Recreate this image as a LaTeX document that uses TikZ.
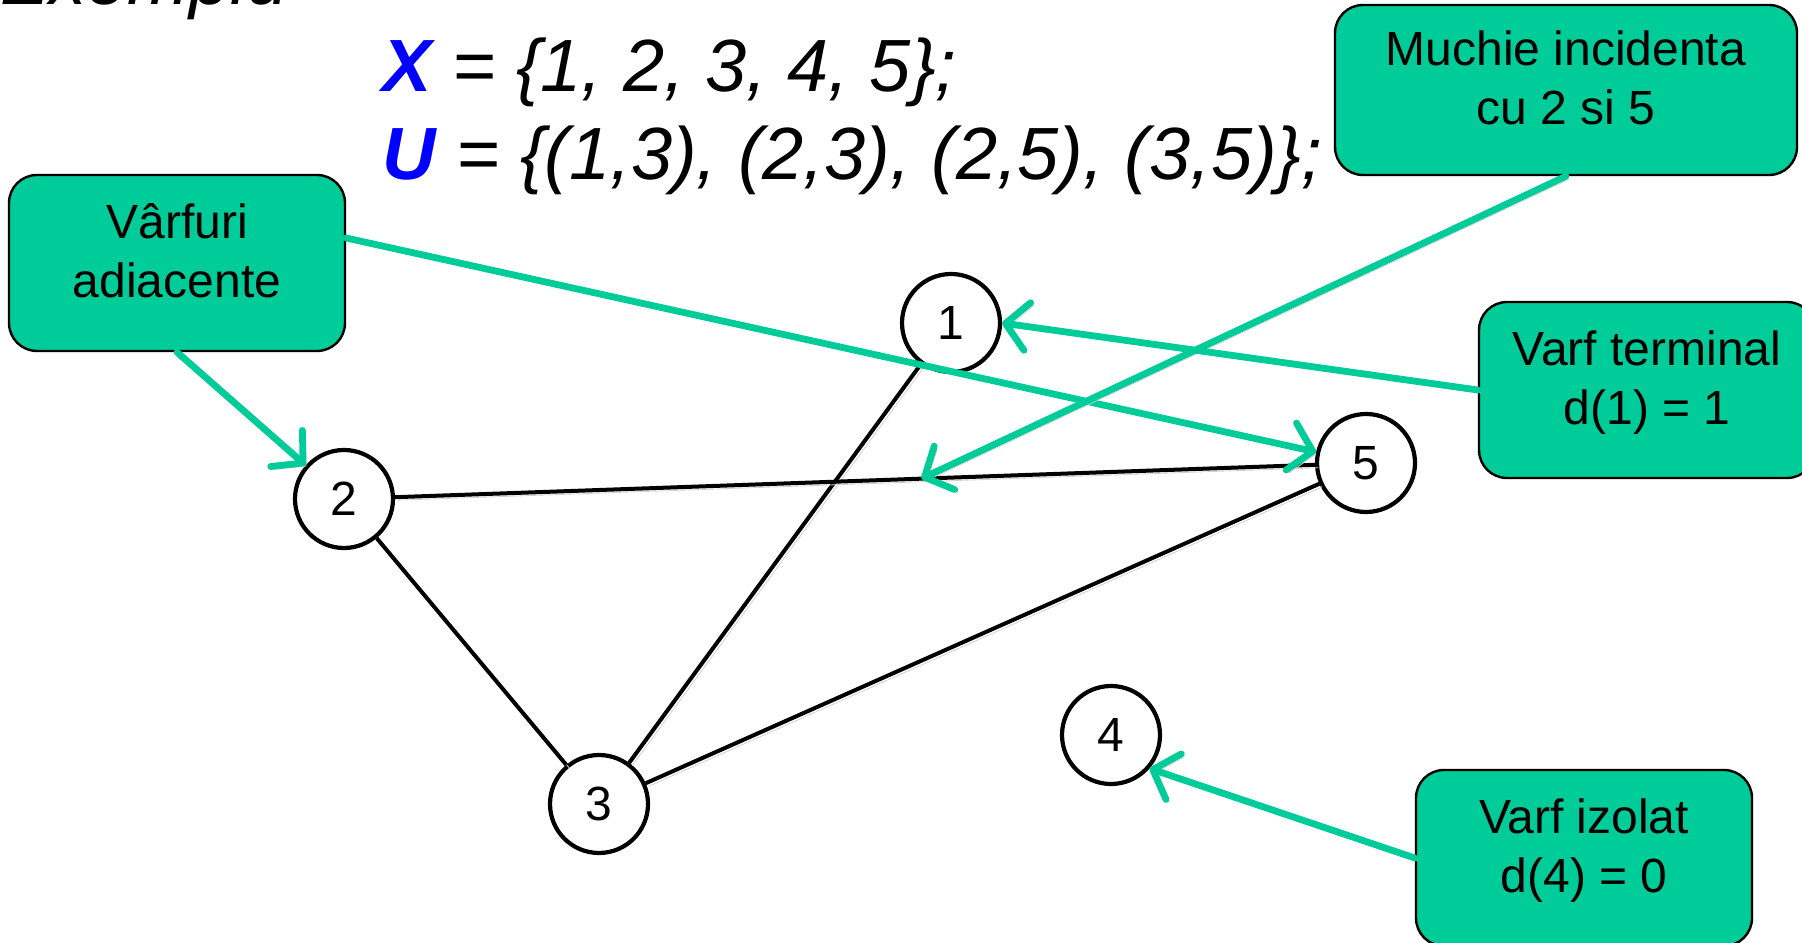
\documentclass[tikz,border=0pt]{standalone}
\usepackage{fontspec}
\setmainfont{Liberation Sans}
\usetikzlibrary{calc,arrows.meta,positioning}
\definecolor{seagreen}{HTML}{00CC99}
\definecolor{setblue}{HTML}{0000FF}
\tikzset{
  shade/.style={preaction={draw=black!18,transform canvas={shift={(1.5pt,-1.5pt)}}}},
  ar/.style={-{Straight Barb[length=11pt,width=24pt,line width=3.4pt,round]},line width=3.4pt,line cap=round,seagreen,shade},
  box/.style={draw=black,line width=1.2pt,rounded corners=14pt,fill=seagreen,align=center,
    minimum width=168pt,minimum height=88pt,font=\fontsize{24}{29.5}\selectfont,
    execute at end node={\rule[-12pt]{0pt}{0pt}}},
  vx/.style={circle,draw,line width=2.1pt,fill=white,minimum size=49pt,inner sep=0pt,font=\fontsize{24}{29}\selectfont},
  ed/.style={line width=2pt,shade},
  title/.style={anchor=base west,inner sep=0pt,font=\fontsize{37}{44}\selectfont\itshape}
}

\begin{document}
\begin{tikzpicture}[x=0.5pt,y=0.5pt]
\useasboundingbox (0,0) rectangle (1802,942);
\clip (0,0) rectangle (1802,942);
% heading and the two sets
\node[title] (head) at (0,937) {Exemplu};
\node[title] (setx) at (382,850) {\textcolor{setblue}{\textbf{X}} = \{1, 2, 3, 4, 5\};};
\node[title] (setu) at (382,762) {\textcolor{setblue}{\textbf{U}} = \{(1,3), (2,3), (2,5), (3,5)\};};
% vertices
\node[vx] (v1) at (951,619) {1};
\node[vx] (v2) at (344,443) {2};
\node[vx] (v3) at (599,138) {3};
\node[vx] (v4) at (1111,207) {4};
\node[vx] (v5) at (1366,479) {5};
% edges
\draw[ed] (v1) -- (v3);
\draw[ed] (v2) -- (v3);
\draw[ed] (v2) -- (v5);
\draw[ed] (v3) -- (v5);
\coordinate (mid) at ($(v2)!0.565!(v5)$);
% callouts
\node[box] (adj) at (177,679) {Vârfuri\\adiacente};
\node[box,minimum width=231pt,minimum height=85pt] (inc) at (1566,852) {Muchie incidenta\\cu 2 si 5};
\node[box] (term) at (1647,552) {Varf terminal\\d(1) = 1};
\node[box] (izo) at (1584,84) {Varf izolat\\d(4) = 0};
\coordinate (adjout) at ($(adj.north east)!0.36!(adj.south east)$);
\draw[ar] (adj.south) -- (v2);
\draw[ar] (adjout) -- (v5);
\draw[ar] (inc.south) -- (mid);
\draw[ar] (term.west) -- (v1.east);
\draw[ar] (izo.west) -- (v4.-41);
\end{tikzpicture}
\end{document}
